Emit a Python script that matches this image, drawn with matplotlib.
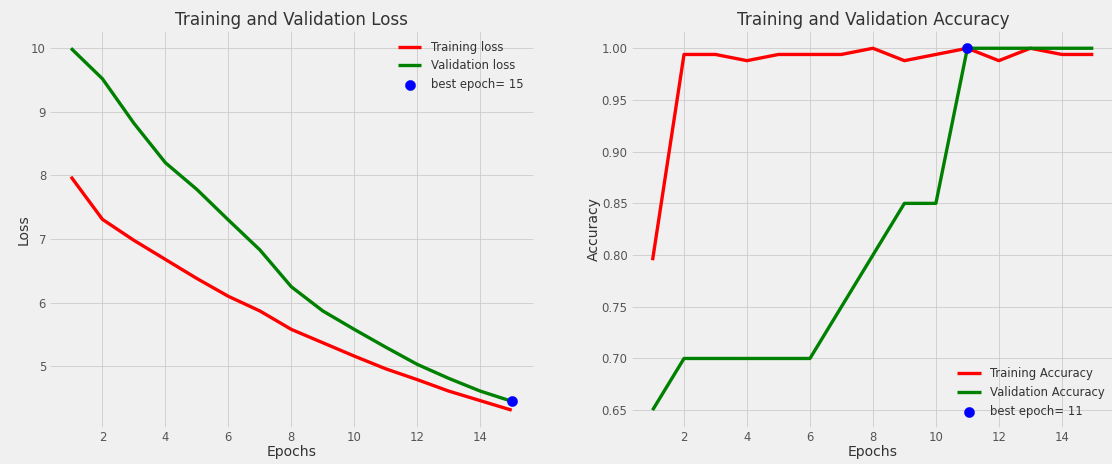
import matplotlib
matplotlib.use('Agg')
import matplotlib.pyplot as plt

# valores
epochs = list(range(1, 16))
tr_loss = [7.98, 7.31, 6.98, 6.68, 6.38, 6.10, 5.87, 5.58, 5.37, 5.16, 4.96, 4.79, 4.61, 4.46, 4.31]
val_loss = [10.0, 9.52, 8.82, 8.20, 7.78, 7.30, 6.83, 6.25, 5.87, 5.58, 5.30, 5.03, 4.81, 4.61, 4.45]
tr_acc = [0.795, 0.994, 0.994, 0.988, 0.994, 0.994, 0.994, 1.0, 0.988, 0.994, 1.0, 0.988, 1.0, 0.994, 0.994]
val_acc = [0.65, 0.70, 0.70, 0.70, 0.70, 0.70, 0.75, 0.80, 0.85, 0.85, 1.0, 1.0, 1.0, 1.0, 1.0]

index_loss = 15
index_acc = 11
loss_label = 'best epoch= ' + str(index_loss)
acc_label = 'best epoch= ' + str(index_acc)

plt.style.use('fivethirtyeight')
plt.rcParams['text.color'] = '#333333'
plt.rcParams['axes.labelcolor'] = '#333333'
plt.rcParams['xtick.color'] = '#555555'
plt.rcParams['ytick.color'] = '#555555'

DPI = 60
fig = plt.figure(figsize=(1112 / DPI, 464 / DPI), dpi=DPI)

# Loss
ax1 = plt.subplot(1, 2, 1)
ax1.set_position([0.044, 0.077, 0.436, 0.858])
plt.plot(epochs, tr_loss, 'r', label='Training loss')
plt.plot(epochs, val_loss, 'g', label='Validation loss')
plt.scatter(index_loss, val_loss[index_loss - 1], s=150, c='blue', label=loss_label, zorder=3)
plt.title('Training and Validation Loss')
plt.xlabel('Epochs', labelpad=1)
plt.ylabel('Loss', labelpad=1)
plt.legend(frameon=False)

# Accuracy
ax2 = plt.subplot(1, 2, 2)
ax2.set_position([0.567, 0.077, 0.436, 0.858])
plt.plot(epochs, tr_acc, 'r', label='Training Accuracy')
plt.plot(epochs, val_acc, 'g', label='Validation Accuracy')
plt.scatter(index_acc, val_acc[index_acc - 1], s=150, c='blue', label=acc_label, zorder=3)
plt.title('Training and Validation Accuracy')
plt.xlabel('Epochs', labelpad=1)
plt.ylabel('Accuracy', labelpad=1)
plt.legend(frameon=False)

plt.savefig('out.png', dpi=DPI)
